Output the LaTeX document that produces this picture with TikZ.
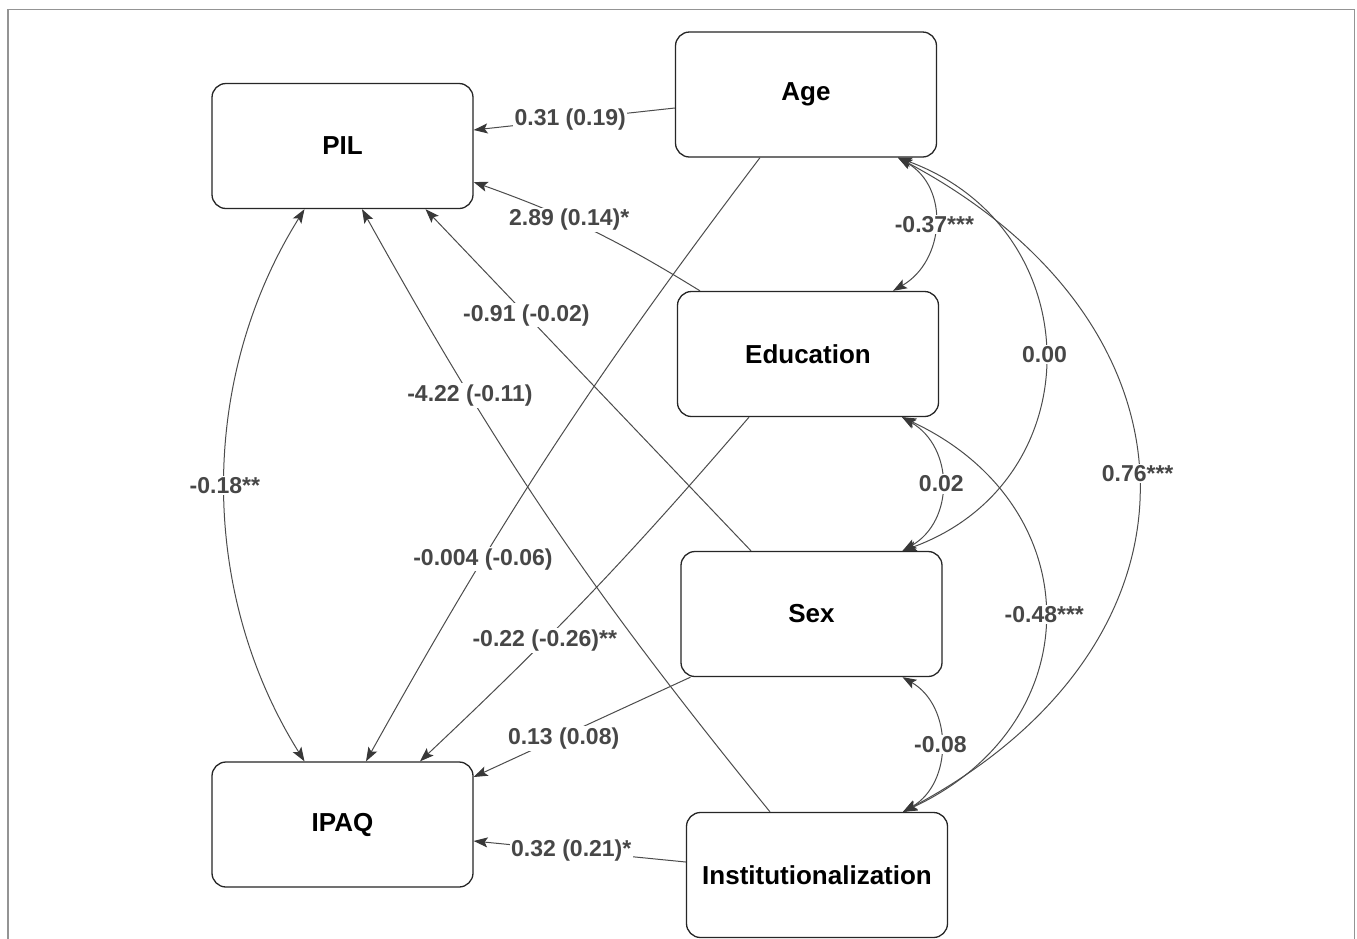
\documentclass[tikz,border=0pt]{standalone}
\usepackage{fontspec}
\setmainfont{Liberation Sans}
\usetikzlibrary{arrows.meta}
\begin{document}
\begin{tikzpicture}[x=1pt,y=1pt,
  box/.style={draw=black!85, line width=1.3pt, rounded corners=14pt, minimum width=261pt, minimum height=125pt, inner sep=0pt, font=\bfseries\fontsize{26}{30}\selectfont, text=black},
  lab/.style={fill=white, text=black!72, inner sep=1.5pt, font=\bfseries\fontsize{23}{27}\selectfont},
  reg/.style={draw=black!70, line width=1pt, -{Stealth[length=14pt,width=10pt,inset=3pt,color=black!78,fill=black!78]}},
  cov/.style={draw=black!70, line width=1pt, {Stealth[length=14pt,width=10pt,inset=3pt,color=black!78,fill=black!78]}-{Stealth[length=14pt,width=10pt,inset=3pt,color=black!78,fill=black!78]}},
]
\clip (0,0) rectangle (1357,-938);
\fill[white] (0,0) rectangle (1357,-938);
\draw[black!42, line width=1.5pt] (8,-9.5) rectangle (1354.5,-960);

\node[box] (pil) at (342.5,-146) {PIL};
\node[box] (age) at (806,-94.5) {Age};
\node[box] (edu) at (808,-354) {Education};
\node[box] (sex) at (811.5,-614) {Sex};
\node[box] (ipaq) at (342.5,-824.5) {IPAQ};
\node[box] (inst) at (817,-875) {Institutionalization};

\draw[reg] ([yshift=-13.5pt]age.west) -- node[lab,pos=0.52] (l1) {0.31 (0.19)} ([yshift=16pt]pil.east);
\draw[reg] ([xshift=-108pt]edu.north) to[bend right=6] node[lab,pos=0.6] (l2) {2.89 (0.14)*} ([yshift=-36pt]pil.east);
\draw[reg] ([xshift=-60.5pt]sex.north) -- node[lab,pos=0.69] (l3) {-0.91 (-0.02)} ([xshift=83pt]pil.south);
\draw[reg] ([xshift=-47pt]inst.north) to[bend left=5] node[lab,pos=0.72] (l4) {-4.22 (-0.11)} ([xshift=19.5pt]pil.south);
\draw[reg] ([xshift=-46pt]age.south) to[bend right=4] node[lab,pos=0.69] (l5) {-0.004 (-0.06)} ([xshift=23.5pt]ipaq.north);
\draw[reg] ([xshift=-59pt]edu.south) to[bend left=3] node[lab,pos=0.647] (l6) {-0.22 (-0.26)**} ([xshift=77.5pt]ipaq.north);
\draw[reg] ([xshift=-121pt]sex.south) -- node[lab,pos=0.585,yshift=-3pt] (l7) {0.13 (0.08)} ([yshift=47.5pt]ipaq.east);
\draw[reg] ([yshift=13pt]inst.west) -- node[lab,pos=0.54] (l8) {0.32 (0.21)*} ([yshift=-16.5pt]ipaq.east);

\draw[cov] ([xshift=-38pt]pil.south) to[out=238,in=122,looseness=0.93] node[lab,pos=0.5] (l9) {-0.18**} ([xshift=-38pt]ipaq.north);
\draw[cov] ([xshift=92pt]age.south) to[out=-30,in=30,looseness=1.15] node[lab] (l10) {-0.37***} ([xshift=85pt]edu.north);
\draw[cov] ([xshift=92pt]age.south) to[out=-20,in=20,looseness=1.33] node[lab] (l11) {0.00} ([xshift=91pt]sex.north);
\draw[cov] ([xshift=92pt]age.south) to[out=-28,in=28,looseness=1.4] node[lab,pos=0.485] (l12) {0.76***} ([xshift=86pt]inst.north);
\draw[cov] ([xshift=94pt]edu.south) to[out=-30,in=30,looseness=1.15] node[lab] (l13) {0.02} ([xshift=91pt]sex.north);
\draw[cov] ([xshift=94pt]edu.south) to[out=-25,in=25,looseness=1.35] node[lab] (l14) {-0.48***} ([xshift=86pt]inst.north);
\draw[cov] ([xshift=91pt]sex.south) to[out=-30,in=30,looseness=1.1] node[lab] (l15) {-0.08} ([xshift=86pt]inst.north);
\end{tikzpicture}
\end{document}
